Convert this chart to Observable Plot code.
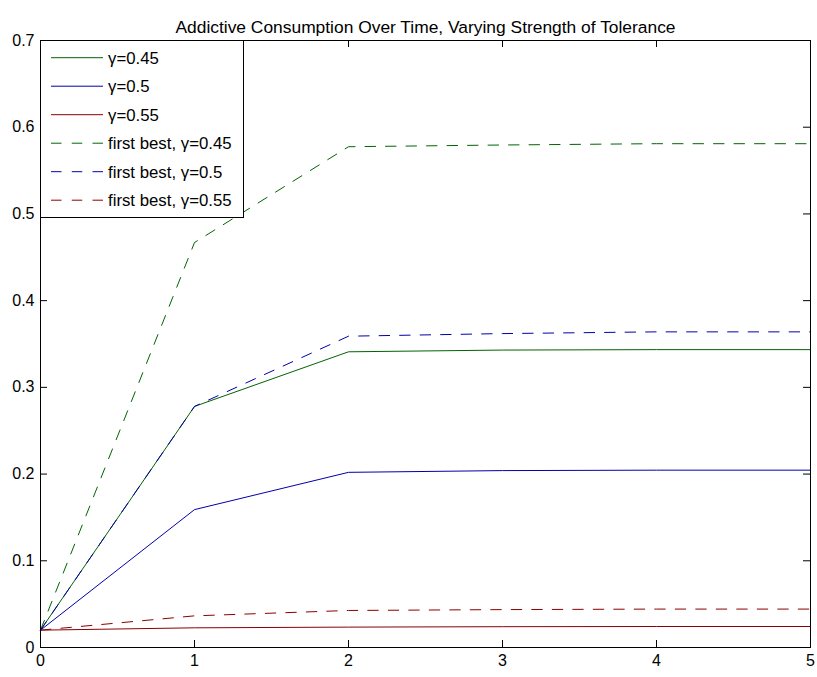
<!DOCTYPE html>
<html><head><meta charset="utf-8">
<script src="https://cdn.jsdelivr.net/npm/d3@7"></script>
<script src="https://cdn.jsdelivr.net/npm/@observablehq/plot@0.6"></script>
<style>
body{margin:0;background:#fff;font-family:"Liberation Sans",Arial,Helvetica,sans-serif;}
#wrap{position:relative;width:817px;height:677px;}
#legend{position:absolute;left:40px;top:40px;width:204px;height:178px;box-sizing:border-box;border:1px solid #000;background:#fff;}
#legend svg{display:block;}
</style></head><body><div id="wrap"></div>
<script>
const periods = [0, 1, 2, 3, 4, 5];
const gamma045 = [0.02, 0.278, 0.341, 0.343, 0.3435, 0.3435];
const gamma05 = [0.02, 0.159, 0.202, 0.204, 0.2045, 0.2045];
const gamma055 = [0.02, 0.0227, 0.0235, 0.024, 0.0242, 0.0242];
const firstBest045 = [0.02, 0.467, 0.5775, 0.5795, 0.581, 0.581];
const firstBest05 = [0.02, 0.278, 0.359, 0.362, 0.364, 0.364];
const firstBest055 = [0.02, 0.0365, 0.0427, 0.0437, 0.0443, 0.0443];
const seriesNames = ["γ=0.45", "γ=0.5", "γ=0.55", "first best, γ=0.45", "first best, γ=0.5", "first best, γ=0.55"];
const seriesValues = [gamma045, gamma05, gamma055, firstBest045, firstBest05, firstBest055];
const seriesColors = ["#006400", "#0000aa", "#8b0000", "#006400", "#0000aa", "#8b0000"];
const seriesDashed = [false, false, false, true, true, true];
const xTicks = [0, 1, 2, 3, 4, 5];
const yTicks = [0, 0.1, 0.2, 0.3, 0.4, 0.5, 0.6, 0.7];
const titleText = "Addictive Consumption Over Time, Varying Strength of Tolerance";

const W = 817, H = 677, mL = 40, mR = 7, mT = 40, mB = 30;
const innerH = H - mT - mB, innerW = W - mL - mR, tick = 7;

const rows = [];
seriesValues.forEach((vals, i) => vals.forEach((v, j) => rows.push({x: periods[j], y: v, s: i})));

const lineMarks = seriesNames.map((name, i) =>
  Plot.line(rows.filter(r => r.s === i), {
    x: "x", y: "y", stroke: seriesColors[i], strokeWidth: 1,
    strokeDasharray: seriesDashed[i] ? "10.5,10" : null
  })
);

const chart = Plot.plot({
  width: W, height: H,
  marginLeft: mL, marginRight: mR, marginTop: mT, marginBottom: mB,
  style: {fontFamily: '"Liberation Sans", Arial, Helvetica, sans-serif', fontSize: "16px", color: "#000", background: "#fff"},
  x: {domain: [0, 5], label: null},
  y: {domain: [0, 0.7], label: null},
  marks: [
    ...lineMarks,
    Plot.tickX(xTicks, {x: d => d, stroke: "#000", insetTop: innerH - tick}),
    Plot.tickX(xTicks, {x: d => d, stroke: "#000", insetBottom: innerH - tick}),
    Plot.tickY(yTicks, {y: d => d, stroke: "#000", insetRight: innerW - tick}),
    Plot.tickY(yTicks, {y: d => d, stroke: "#000", insetLeft: innerW - tick}),
    Plot.axisX({ticks: xTicks, tickSize: 0, tickPadding: 7, tickFormat: d => String(d), fontSize: 16, label: null}),
    Plot.axisY({ticks: yTicks, tickSize: 0, tickPadding: 6, tickFormat: d => d === 0 ? "0" : d.toFixed(1), fontSize: 16, label: null}),
    Plot.frame({stroke: "#000", strokeWidth: 1}),
    Plot.text([titleText], {frameAnchor: "top", dy: -19.5, fontSize: 17.4, fill: "#000"})
  ]
});

const wrap = document.getElementById("wrap");
wrap.appendChild(chart);

// Legend overlay
const legend = document.createElement("div");
legend.id = "legend";
const ns = "http://www.w3.org/2000/svg";
const lsvg = document.createElementNS(ns, "svg");
lsvg.setAttribute("width", 202);
lsvg.setAttribute("height", 176);
seriesNames.forEach((name, i) => {
  const cy = 16.7 + i * 28.5;
  const ln = document.createElementNS(ns, "line");
  ln.setAttribute("x1", 10); ln.setAttribute("x2", 62);
  ln.setAttribute("y1", cy); ln.setAttribute("y2", cy);
  ln.setAttribute("stroke", seriesColors[i]);
  ln.setAttribute("stroke-width", 1);
  if (seriesDashed[i]) ln.setAttribute("stroke-dasharray", "10.5,10.25");
  lsvg.appendChild(ln);
  const t = document.createElementNS(ns, "text");
  t.setAttribute("x", 67); t.setAttribute("y", cy);
  t.setAttribute("dy", "0.36em");
  t.setAttribute("font-size", "16.8px");
  t.setAttribute("font-family", '"Liberation Sans", Arial, Helvetica, sans-serif');
  t.textContent = name;
  lsvg.appendChild(t);
});
legend.appendChild(lsvg);
wrap.appendChild(legend);
</script></body></html>
